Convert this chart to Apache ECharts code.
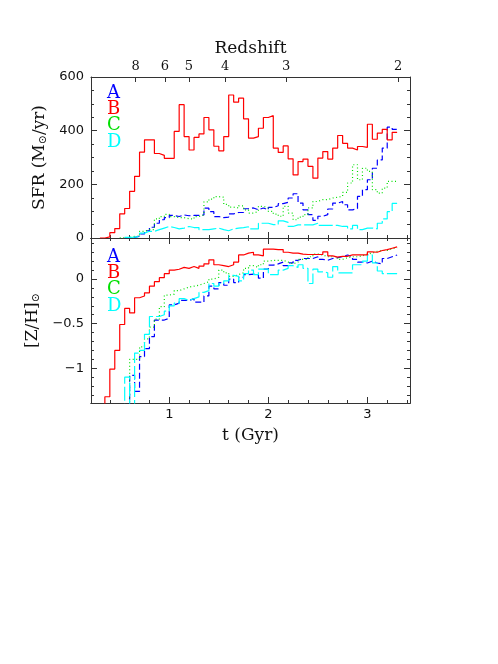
<!DOCTYPE html>
<html>
<head>
<meta charset="utf-8">
<script src="https://cdn.jsdelivr.net/npm/echarts@6/dist/echarts.min.js"></script>
<style>
  html, body { margin: 0; background: #fff; }
  #chart { width: 498px; height: 664px; }
</style>
</head>
<body>
<div id="chart"></div>
<script>
// bin edges in t (Gyr), bins are 0.05 Gyr wide
const tEdges = [
  0.30, 0.35, 0.40, 0.45, 0.50, 0.55, 0.60, 0.65, 0.70, 0.75,
  0.80, 0.85, 0.90, 0.95, 1.00, 1.05, 1.10, 1.15, 1.20, 1.25,
  1.30, 1.35, 1.40, 1.45, 1.50, 1.55, 1.60, 1.65, 1.70, 1.75,
  1.80, 1.85, 1.90, 1.95, 2.00, 2.05, 2.10, 2.15, 2.20, 2.25,
  2.30, 2.35, 2.40, 2.45, 2.50, 2.55, 2.60, 2.65, 2.70, 2.75,
  2.80, 2.85, 2.90, 2.95, 3.00, 3.05, 3.10, 3.15, 3.20, 3.25,
  3.30
]

// star formation rate per bin (Msun/yr)
const sfrA = [
  null, null, null, null, null, 1, 2, 7, 15, 27,
  40, 55, 68, 76, 84, 80, 86, 83, 84, 84,
  86, 111, 98, 80, 76, 78, 90, 95, 95, 109,
  112, 105, 112, 105, 114, 120, 128, 133, 149, 165,
  130, 105, 87, 66, 81, 87, 108, 130, 136, 124,
  105, 110, 155, 180, 217, 260, 291, 335, 413, 405
]
const sfrB = [
  0, 4, 20, 35, 90, 110, 174, 230, 320, 366,
  366, 315, 308, 297, 297, 397, 497, 378, 328, 375,
  388, 449, 403, 342, 325, 378, 533, 506, 521, 444,
  372, 378, 409, 449, 456, 335, 319, 343, 295, 235,
  285, 294, 267, 223, 298, 322, 294, 335, 382, 353,
  335, 328, 341, 338, 424, 368, 391, 405, 366, 394
]
const sfrC = [
  null, null, null, null, 1, 2, 6, 6, 25, 31,
  31, 71, 80, 88, 80, 76, 76, 72, 71, 80,
  86, 135, 145, 154, 152, 125, 115, 112, 120, 105,
  93, 99, 118, 112, 99, 89, 81, 118, 93, 68,
  78, 87, 112, 136, 143, 143, 149, 152, 155, 170,
  205, 273, 217, 260, 248, 180, 167, 186, 211, 211
]
const sfrD = [
  null, null, null, null, null, 2, 3, 6, 18, 25,
  25, 31, 37, 43, 39, 34, 37, 43, 39, 39,
  31, 31, 34, 37, 31, 27, 34, 37, 39, 42,
  34, 34, 55, 55, 50, 50, 64, 58, 43, 49,
  49, 49, 49, 55, 47, 47, 47, 47, 43, 43,
  34, 47, 31, 37, 37, 34, 55, 71, 98, 129
]

// metallicity [Z/H] per bin (-1.5 = below the plotted range)
const zA = [
  null, null, null, null, null, -1.5, -1.08, -1.26, -0.87, -0.78,
  -0.645, -0.46, -0.46, -0.44, -0.29, -0.27, -0.24, -0.24, -0.22, -0.26,
  -0.26, -0.19, -0.08, -0.11, -0.04, -0.07, 0.0, -0.04, 0.02, 0.05,
  0.055, 0.045, 0.01, 0.11, 0.155, 0.17, 0.19, 0.15, 0.18, 0.21,
  0.23, 0.23, 0.23, 0.25, 0.22, 0.21, 0.23, 0.24, 0.25, 0.27,
  0.25, 0.22, 0.19, 0.18, 0.2, 0.18, 0.17, 0.23, 0.25, 0.27
]
const zB = [
  -1.5, -1.32, -1.01, -0.80, -0.51, -0.33, -0.38, -0.21, -0.19, -0.155,
  -0.08, -0.03, 0.015, 0.06, 0.10, 0.11, 0.13, 0.12, 0.14, 0.12,
  0.145, 0.17, 0.215, 0.16, 0.15, 0.14, 0.16, 0.19, 0.27, 0.29,
  0.30, 0.27, 0.26, 0.335, 0.335, 0.33, 0.33, 0.30, 0.29, 0.29,
  0.28, 0.275, 0.275, 0.275, 0.275, 0.305, 0.26, 0.245, 0.255, 0.255,
  0.27, 0.27, 0.27, 0.27, 0.305, 0.30, 0.32, 0.33, 0.345, 0.36
]
const zC = [
  null, null, null, null, -1.5, -1.5, -0.90, -0.90, -0.76, -0.67,
  -0.54, -0.45, -0.31, -0.18, -0.17, -0.13, -0.11, -0.09, -0.08, -0.07,
  -0.05, -0.03, 0.0, 0.02, 0.10, 0.07, 0.03, 0.05, 0.07, 0.12,
  0.15, 0.13, 0.16, 0.20, 0.21, 0.21, 0.21, 0.19, 0.17, 0.19,
  0.22, 0.22, 0.25, 0.28, 0.27, 0.25, 0.25, 0.25, 0.22, 0.24,
  0.25, 0.25, 0.26, 0.28, 0.29, 0.31, 0.32, 0.32, 0.34, 0.35
]
const zD = [
  null, null, null, null, -1.5, -1.10, -1.5, -0.83, -0.80, -0.62,
  -0.42, -0.42, -0.40, -0.36, -0.30, -0.27, -0.22, -0.24, -0.22, -0.20,
  -0.15, -0.13, -0.05, -0.08, -0.05, -0.02, 0.04, 0.03, -0.02, 0.06,
  0.10, 0.05, 0.11, 0.11, 0.05, 0.05, 0.10, 0.12, 0.15, 0.13,
  0.16, 0.12, -0.05, 0.11, 0.08, 0.07, 0.02, 0.14, 0.07, 0.07,
  0.07, 0.16, 0.16, 0.20, 0.27, 0.18, 0.09, 0.06, 0.06, 0.06
]

// top axis: redshift labels and the time they sit at
const redshiftLabels = ['8', '6', '5', '4', '3', '2']
const redshiftT = [0.66, 0.955, 1.197, 1.563, 2.18, 3.31]

const tMajor = [1, 2, 3]
const tMinor = [0.4, 0.6, 0.8, 1.2, 1.4, 1.6, 1.8, 2.2, 2.4, 2.6, 2.8, 3.2, 3.4]
const zMajor = [-1, -0.5, 0]
const zMinor = [-1.3, -1.2, -1.1, -0.9, -0.8, -0.7, -0.6, -0.4, -0.3, -0.2, -0.1, 0.1, 0.2, 0.3, 0.4]

const names = ['A', 'B', 'C', 'D']
const colors = ['#0000ff', '#ff0000', '#00e000', '#00ffff']
const dashes = [[6, 3], 'solid', [1, 2.5], [14, 3]]

const frame = '#333'
const numFont = 'DejaVu Sans'
const textFont = 'DejaVu Serif'

function steps(vals) {
  const pts = []
  vals.forEach((v, i) => {
    if (v !== null) pts.push([tEdges[i], v])
  })
  // close the last bin at its right edge
  const last = vals.length - 1
  pts.push([tEdges[last + 1], vals[last]])
  return pts
}

function tAxis(grid, position, extra) {
  return Object.assign({
    type: 'value', gridIndex: grid, position: position,
    min: 0.21, max: 3.43,
    splitLine: { show: false },
    axisLine: { show: true, onZero: false, lineStyle: { color: frame, width: 1 } },
    axisTick: { show: false },
    axisLabel: { show: false }
  }, extra)
}

function ticks(values, len) {
  return { show: true, inside: true, length: len, customValues: values, lineStyle: { color: frame } }
}

const chart = echarts.init(document.getElementById('chart'), null, { renderer: 'canvas' })

const xAxis = [
  tAxis(0, 'bottom', { axisTick: ticks(tMajor, 6) }),
  tAxis(0, 'bottom', { axisTick: ticks(tMinor, 3) }),
  tAxis(0, 'top', {
    axisTick: ticks(redshiftT, 5),
    axisLabel: {
      show: true, customValues: redshiftT, margin: 4,
      fontFamily: textFont, fontSize: 13, color: '#111',
      formatter: v => redshiftLabels[redshiftT.indexOf(v)]
    },
    name: 'Redshift', nameLocation: 'middle', nameGap: 20,
    nameTextStyle: { fontFamily: textFont, fontSize: 17, color: '#111' }
  }),
  tAxis(1, 'bottom', {
    axisTick: ticks(tMajor, 6),
    axisLabel: {
      show: true, customValues: tMajor, margin: 5,
      fontFamily: numFont, fontSize: 13, color: '#111'
    },
    name: 't (Gyr)', nameLocation: 'middle', nameGap: 24,
    nameTextStyle: { fontFamily: textFont, fontSize: 17, color: '#111' }
  }),
  tAxis(1, 'bottom', { axisTick: ticks(tMinor, 3) }),
  tAxis(1, 'top', { axisTick: ticks(tMajor, 6) }),
  tAxis(1, 'top', { axisTick: ticks(tMinor, 3) })
]

const sfrAxis = {
  type: 'value', gridIndex: 0, min: 0, max: 600, interval: 200,
  splitLine: { show: false },
  axisLine: { show: true, onZero: false, lineStyle: { color: frame } },
  axisTick: { show: true, inside: true, length: 6, lineStyle: { color: frame } },
  minorTick: { show: true, splitNumber: 4, length: 3, lineStyle: { color: frame } },
  minorSplitLine: { show: false }
}

const zAxisBase = {
  type: 'value', gridIndex: 1, min: -1.39, max: 0.46,
  splitLine: { show: false },
  axisLine: { show: true, onZero: false, lineStyle: { color: frame } },
  axisLabel: { show: false }
}

const yAxis = [
  Object.assign({}, sfrAxis, {
    position: 'left',
    axisLabel: {
      show: true, margin: 7, fontFamily: numFont, fontSize: 13, color: '#111',
      showMinLabel: true, showMaxLabel: true
    },
    name: 'SFR (M{sub|⊙}/yr)', nameLocation: 'middle', nameGap: 38,
    nameTextStyle: {
      fontFamily: textFont, fontSize: 17, color: '#111',
      rich: { sub: { fontFamily: textFont, fontSize: 11, color: '#111', verticalAlign: 'bottom', lineHeight: 14 } }
    }
  }),
  Object.assign({}, sfrAxis, { position: 'right', axisLabel: { show: false } }),
  Object.assign({}, zAxisBase, {
    position: 'left',
    axisTick: ticks(zMajor, 6),
    axisLabel: {
      show: true, customValues: zMajor, margin: 7,
      fontFamily: numFont, fontSize: 13, color: '#111',
      formatter: v => (v < 0 ? '\u2212' + String(-v) : String(v))
    },
    name: '[Z/H]{sub|⊙}', nameLocation: 'middle', nameGap: 38,
    nameTextStyle: {
      fontFamily: textFont, fontSize: 17, color: '#111',
      rich: { sub: { fontFamily: textFont, fontSize: 11, color: '#111', verticalAlign: 'bottom', lineHeight: 14 } }
    }
  }),
  Object.assign({}, zAxisBase, { position: 'left', axisTick: ticks(zMinor, 3) }),
  Object.assign({}, zAxisBase, { position: 'right', axisTick: ticks(zMajor, 6) }),
  Object.assign({}, zAxisBase, { position: 'right', axisTick: ticks(zMinor, 3) })
]

const sfrSets = [sfrA, sfrB, sfrC, sfrD]
const zSets = [zA, zB, zC, zD]

const series = []
names.forEach((name, k) => {
  const style = { color: colors[k], width: 1.2, type: dashes[k] }
  series.push({
    name: name, type: 'line', step: 'end', xAxisIndex: 0, yAxisIndex: 0,
    data: steps(sfrSets[k]), showSymbol: false, symbol: 'none',
    lineStyle: style, clip: true, z: 3 + (k === 1 ? 1 : 0)
  })
  series.push({
    name: name, type: 'line', step: 'end', xAxisIndex: 3, yAxisIndex: 2,
    data: steps(zSets[k]), showSymbol: false, symbol: 'none',
    lineStyle: style, clip: true, z: 3 + (k === 1 ? 1 : 0)
  })
})

// series letters in the upper left of each panel
const labelTops = [93, 257]
const graphic = []
labelTops.forEach(y0 => {
  names.forEach((name, k) => {
    graphic.push({
      type: 'text', left: 107, top: y0 + k * 16.4 - 9,
      style: { text: name, fill: colors[k], font: '18px "DejaVu Serif"' }
    })
  })
})

chart.setOption({
  animation: false,
  backgroundColor: '#fff',
  grid: [
    { left: 91, top: 77, width: 319, height: 161 },
    { left: 91, top: 238, width: 319, height: 165 }
  ],
  xAxis: xAxis,
  yAxis: yAxis,
  series: series,
  graphic: graphic
})
</script>
</body>
</html>
